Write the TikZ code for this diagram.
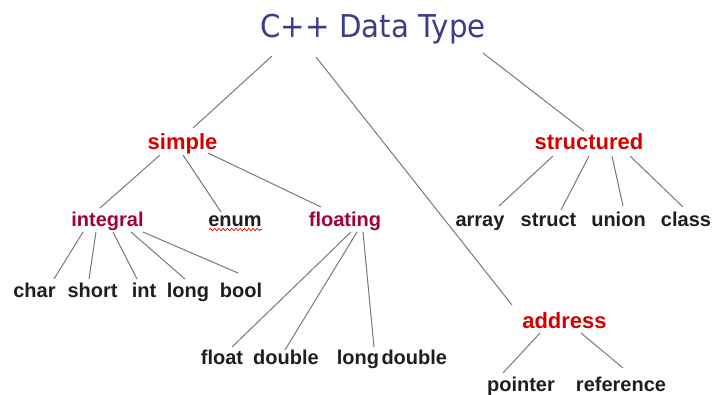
\documentclass[tikz,border=0pt]{standalone}
\usepackage{graphicx}
\usepackage{fontspec}
\setmainfont{Liberation Sans}
\newfontfamily\titlefont{DejaVu Sans}
\usetikzlibrary{decorations.pathmorphing}
\definecolor{titleblue}{RGB}{60,60,140}
\definecolor{topred}{RGB}{212,0,0}
\definecolor{subred}{RGB}{165,0,50}
\definecolor{leafink}{RGB}{30,30,30}
\definecolor{edgegray}{RGB}{120,120,120}
\begin{document}
\begin{tikzpicture}[x=0.75pt,y=-0.75pt,
  lbl/.style={anchor=base,inner sep=0pt,font=\bfseries\fontsize{15}{18}\selectfont},
  toplbl/.style={lbl,text=topred,font=\bfseries\fontsize{16.5}{20}\selectfont},
  sublbl/.style={lbl,text=subred},
  leaf/.style={lbl,text=leafink},
  edge/.style={draw=edgegray,line width=0.75pt}]
\useasboundingbox (0,0) rectangle (715,394);

% root
\node[anchor=base,inner sep=0pt,text=titleblue,
      font=\titlefont\fontsize{23.6}{28}\selectfont] (title) at (373,37)
      {\scalebox{0.93}[1]{C++ Data Type}};

% first level
\node[toplbl] (simple) at (182.5,149) {simple};
\node[toplbl] (structured) at (589,149) {structured};
\node[toplbl] (address) at (564.5,328) {address};

% second level
\node[sublbl] (integral) at (107.5,226) {integral};
\node[leaf] (enum) at (235,226) {enum};
\node[sublbl] (floating) at (345,226) {floating};
\node[leaf] (array) at (480,226) {array};
\node[leaf] (struct) at (548.5,226) {struct};
\node[leaf] (union) at (618.5,226) {union};
\node[leaf] (class) at (686,226) {class};

% leaves
\node[leaf] (char) at (34.5,297) {char};
\node[leaf] (short) at (92.5,297) {short};
\node[leaf] (int) at (144,297) {int};
\node[leaf] (long) at (188,297) {long};
\node[leaf] (bool) at (241,297) {bool};
\node[leaf] (float) at (222,364) {float};
\node[leaf] (double) at (286,364) {double};
\node[leaf] (longdouble) at (392,364) {long\hspace{0.12em}double};
\node[leaf] (pointer) at (521,391) {pointer};
\node[leaf] (reference) at (621,391) {reference};

% spell-check squiggle under "enum"
\draw[red!85!black,line width=0.5pt,decorate,
      decoration={snake,amplitude=0.9,segment length=3.2}]
  ([shift={(-26,3.5)}]enum.base) -- ([shift={(27,3.5)}]enum.base);

% root edges
\draw[edge] ([shift={(-101,19)}]title.base) -- ([shift={(10.5,-21)}]simple.base);
\draw[edge] ([shift={(-57,20)}]title.base) -- ([shift={(-52.5,-23)}]address.base);
\draw[edge] ([shift={(110,16)}]title.base) -- ([shift={(-5,-18)}]structured.base);

% simple
\draw[edge] ([shift={(-22.5,6)}]simple.base) -- ([shift={(-7.5,-18)}]integral.base);
\draw[edge] ([shift={(0.5,6)}]simple.base) -- ([shift={(-14,-14)}]enum.base);
\draw[edge] ([shift={(25.5,4)}]simple.base) -- ([shift={(-24,-19)}]floating.base);

% integral
\draw[edge] ([shift={(-24.5,6)}]integral.base) -- ([shift={(19.5,-18)}]char.base);
\draw[edge] ([shift={(-11.5,6)}]integral.base) -- ([shift={(-3.5,-18)}]short.base);
\draw[edge] ([shift={(5.5,6)}]integral.base) -- ([shift={(-7,-18)}]int.base);
\draw[edge] ([shift={(23.5,6)}]integral.base) -- ([shift={(-3,-18)}]long.base);
\draw[edge] ([shift={(35.5,6)}]integral.base) -- ([shift={(-3,-24)}]bool.base);

% floating
\draw[edge] ([shift={(6,6)}]floating.base) -- ([shift={(10,-17)}]float.base);
\draw[edge] ([shift={(12,6)}]floating.base) -- ([shift={(-1,-14)}]double.base);
\draw[edge] ([shift={(18,6)}]floating.base) -- ([shift={(-18,-17)}]longdouble.base);

% structured
\draw[edge] ([shift={(-36,7)}]structured.base) -- ([shift={(19,-20)}]array.base);
\draw[edge] ([shift={(0,7)}]structured.base) -- ([shift={(12.5,-16)}]struct.base);
\draw[edge] ([shift={(23,7)}]structured.base) -- ([shift={(4.5,-20)}]union.base);
\draw[edge] ([shift={(41,7)}]structured.base) -- ([shift={(-3,-19)}]class.base);

% address
\draw[edge] ([shift={(-24.5,5)}]address.base) -- ([shift={(-18,-18)}]pointer.base);
\draw[edge] ([shift={(16.5,5)}]address.base) -- ([shift={(2,-23)}]reference.base);
\end{tikzpicture}
\end{document}
